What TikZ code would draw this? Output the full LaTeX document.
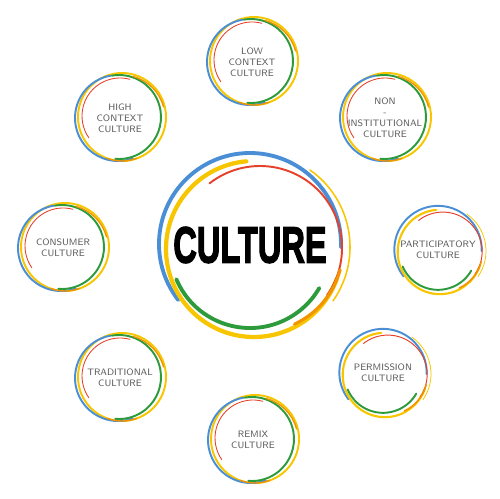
\documentclass[tikz,border=0pt]{standalone}
\usepackage{fontspec}
\newfontfamily\titlefont[BoldFeatures={FakeBold=3}]{Liberation Sans}
\usepackage{tikz}

\definecolor{ringyellow}{HTML}{F7C600}
\definecolor{ringblue}{HTML}{4A8FD6}
\definecolor{ringred}{HTML}{E6412B}
\definecolor{ringgreen}{HTML}{2D9A3C}
\definecolor{ringorange}{HTML}{F29400}
\definecolor{labelgray}{HTML}{5A5A5A}

\tikzset{
  labeltext/.style={align=center, text=labelgray, inner sep=0pt,
    font=\sffamily\fontsize{5.3}{6.3}\selectfont},
  titletext/.style={text=black, inner sep=0pt,
    font=\titlefont\bfseries\fontsize{29}{29}\selectfont},
}

% rings, green on the right: node, scale, width
\newcommand\ringsA[3]{%
  \begin{scope}[shift={(#1.center)}, scale=#2, line width=#3, line cap=round]
    \draw[ringyellow] (2,1) circle (44);
    \draw[ringblue] (-2,0) ++(100:43) arc[start angle=100, end angle=290, radius=43];
    \draw[ringred, line width=0.45*#3] (0,2) ++(75:38) arc[start angle=75, end angle=215, radius=38];
    \draw[ringgreen] (-1,1) ++(100:42) arc[start angle=100, end angle=-95, radius=42];
    \draw[ringorange, line width=0.7*#3] (2,0) ++(15:43) arc[start angle=15, end angle=75, radius=43];
    \draw[ringorange, line width=0.7*#3] (2,0) ++(250:43) arc[start angle=250, end angle=290, radius=43];
  \end{scope}}

% rings, green at the bottom: node, scale, width
\newcommand\ringsB[3]{%
  \begin{scope}[shift={(#1.center)}, scale=#2, line width=#3, line cap=round]
    \draw[ringblue] (0,1) ++(-2:91) arc[start angle=-2, end angle=218, radius=91];
    \draw[ringyellow, line width=1.1*#3] (4,-4) ++(95:88) arc[start angle=95, end angle=340, radius=88];
    \draw[ringyellow, line width=0.4*#3] (6,-2) ++(-35:94) arc[start angle=-35, end angle=55, radius=94];
    \draw[ringgreen] (0,-3) ++(203:80) arc[start angle=203, end angle=330, radius=80];
    \draw[ringred, line width=0.5*#3] (10,-3) ++(-35:82) arc[start angle=-35, end angle=128, radius=82];
    \draw[ringorange, line width=0.8*#3] (9,-3) ++(-65:84) arc[start angle=-65, end angle=-15, radius=84];
  \end{scope}}

\begin{document}
\begin{tikzpicture}[x=0.02cm, y=0.02cm]
	\useasboundingbox (0,0) rectangle (500,498);

	% Centre %
	\node[titletext] (culture) at (250,253) {\scalebox{0.64}[1]{CULTURE}};
	\ringsB{culture}{1}{2.2pt}

	% Ring of cultures %
	\node[labeltext] (low) at (252,436) {LOW\\CONTEXT\\CULTURE};
	\node[labeltext] (noninst) at (385,380) {NON\\-\\INSTITUTIONAL\\CULTURE};
	\node[labeltext] (particip) at (438,248) {PARTICIPATORY\\CULTURE};
	\node[labeltext] (permission) at (383,125) {PERMISSION\\CULTURE};
	\node[labeltext] (remix) at (253,58) {REMIX\\CULTURE};
	\node[labeltext] (traditional) at (120,120) {TRADITIONAL\\CULTURE};
	\node[labeltext] (consumer) at (63,250) {CONSUMER\\CULTURE};
	\node[labeltext] (high) at (120,380) {HIGH\\CONTEXT\\CULTURE};

	\ringsA{low}{1}{1.1pt}
	\ringsA{noninst}{1}{1.1pt}
	\ringsB{particip}{0.48}{1.1pt}
	\ringsB{permission}{0.48}{1.1pt}
	\ringsA{remix}{1}{1.1pt}
	\ringsA{traditional}{1}{1.1pt}
	\ringsA{consumer}{1}{1.1pt}
	\ringsA{high}{1}{1.1pt}
\end{tikzpicture}
\end{document}
